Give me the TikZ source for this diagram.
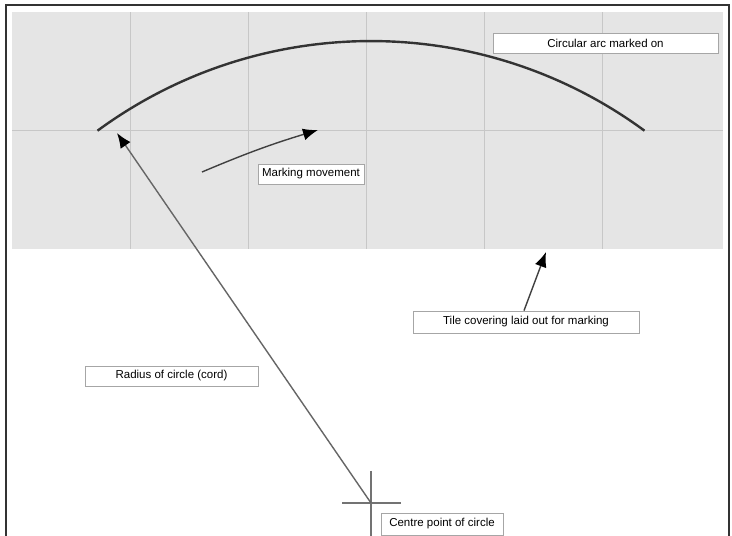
\documentclass[tikz,border=0pt]{standalone}
\usepackage{fontspec}
\setmainfont{Liberation Sans}
\usetikzlibrary{arrows.meta}
\begin{document}
\begin{tikzpicture}[x=1pt,y=1pt,
  lbl/.style={draw=black!35,fill=white,line width=0.8pt,inner sep=0pt,font=\fontsize{11.5}{13}\selectfont,text=black},
  gridline/.style={draw=black!22,line width=1pt},
  pointer/.style={draw=black!75,line width=1.4pt,-{Latex[length=15pt,width=12pt,color=black]}}]
\useasboundingbox (0,0) rectangle (732,536);
\fill[white] (0,0) rectangle (732,536);
% tile covering
\fill[black!10] (12,287) rectangle (723,524);
\foreach \x in {130,248,366,484,602} \draw[gridline] (\x,287) -- (\x,524);
\draw[gridline] (12,405) -- (723,405);
% frame
\draw[black!80,line width=2pt] (6,-10) -- (6,531) -- (729,531) -- (729,-10);
% circular arc
\coordinate (c) at (371,33);
\coordinate (arcA) at (97.5,405.3);
\draw[black!80,line width=2.4pt] (arcA) arc[start angle=126.3,end angle=53.7,radius=462];
% centre cross
\draw[black!55,line width=1.2pt] (371,65) -- (371,0);
\draw[black!55,line width=1.2pt] (342,33) -- (401,33);
% labels
\node[lbl,minimum width=225pt,minimum height=20pt] (arcl) at (605.5,493) {Circular arc marked on};
\node[lbl,minimum width=106pt,minimum height=20pt] (mark) at (311,362) {Marking movement};
\node[lbl,minimum width=226pt,minimum height=22pt] (tile) at (526,214) {Tile covering laid out for marking};
\node[lbl,minimum width=173pt,minimum height=20pt] (rad) at (171.5,160) {Radius of circle (cord)};
\node[lbl,minimum width=122pt,minimum height=22pt] (cen) at (442,12) {Centre point of circle};
% arrows
\coordinate (rtip) at (117,403);
\draw[pointer,draw=black!60] (c) -- (rtip);
\coordinate (ms) at (202,364);
\coordinate (me) at (318,406);
\draw[pointer] (ms) to[bend left=3] (me);
\coordinate (tt) at (546,284);
\draw[pointer] (tile.north -| 524,0) -- (tt);
\end{tikzpicture}
\end{document}
